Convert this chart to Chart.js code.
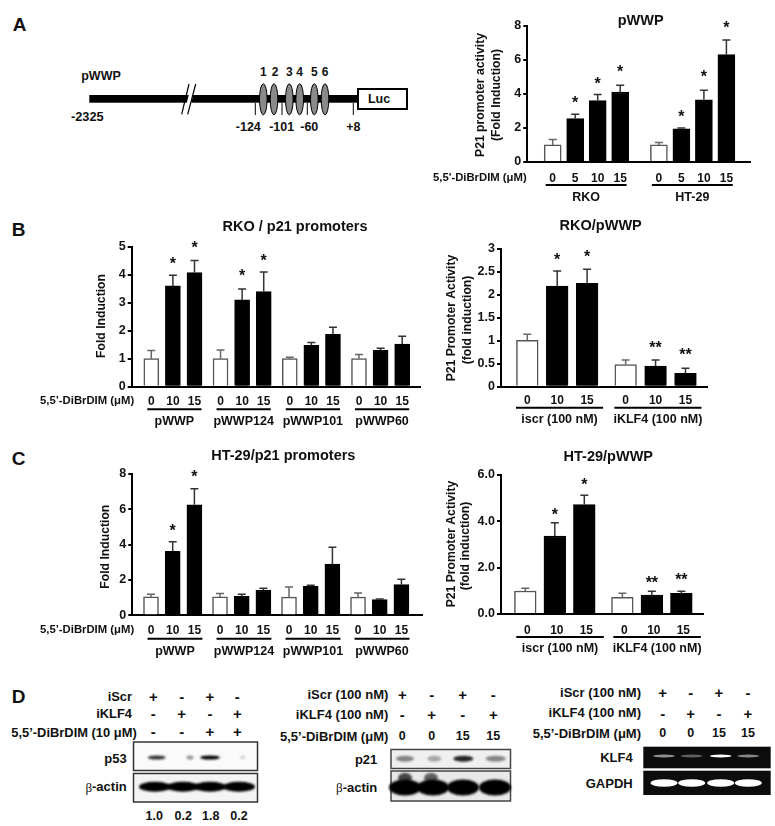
<!DOCTYPE html>
<html>
<head>
<meta charset="utf-8">
<title>p21 promoter activity</title>
<script src="https://cdn.jsdelivr.net/npm/chart.js@4"></script>
<style>
    html, body { margin: 0; padding: 0; background: #fff; overflow: hidden; }
    #page { position: relative; width: 775px; height: 826px; overflow: hidden; }
    #page canvas { position: absolute; }
    #over { position: absolute; left: 0; top: 0; }
    #over text { font-family: "Liberation Sans", Arial, sans-serif; font-weight: bold; fill: #111; dominant-baseline: central; }
</style>
</head>
<body>
<div id="page">
    <svg id="over" width="775" height="826" viewBox="0 0 775 826"></svg>
</div>
<script>
// Panel A, right
const aDoses = ['0', '5', '10', '15', '0', '5', '10', '15'];
const aGroups = ['RKO', 'HT-29'];
const aValues = [1.0, 2.55, 3.6, 4.1, 1.0, 1.95, 3.65, 6.3];
const aTops = [1.32, 2.8, 3.95, 4.5, 1.15, 2.0, 4.2, 7.15];
const aStars = ['', '*', '*', '*', '', '*', '*', '*'];
const aStarLevels = [0, 3.56, 4.65, 5.35, 0, 2.72, 5.06, 7.96];
const aTicks = ['0', '2', '4', '6', '8'];

// Panel B, left
const bDoses = ['0', '10', '15', '0', '10', '15', '0', '10', '15', '0', '10', '15'];
const promoters = ['pWWP', 'pWWP124', 'pWWP101', 'pWWP60'];
const bValues = [1.0, 3.6, 4.08, 1.0, 3.1, 3.4, 1.0, 1.48, 1.87, 1.0, 1.3, 1.52];
const bTops = [1.29, 3.98, 4.51, 1.31, 3.49, 4.1, 1.05, 1.58, 2.12, 1.15, 1.37, 1.8];
const bStars = ['', '*', '*', '', '*', '*', '', '', '', '', '', ''];
const bStarLevels = [0, 4.44, 4.99, 0, 3.99, 4.55, 0, 0, 0, 0, 0, 0];
const bTicks = ['0', '1', '2', '3', '4', '5'];

// Panel B, right
const knockDoses = ['0', '10', '15', '0', '10', '15'];
const knockGroups = ['iscr (100 nM)', 'iKLF4 (100 nM)'];
const b2Values = [1.01, 2.19, 2.25, 0.48, 0.45, 0.29];
const b2Tops = [1.14, 2.52, 2.56, 0.58, 0.58, 0.4];
const b2Stars = ['', '*', '*', '', '**', '**'];
const b2StarLevels = [0, 2.8, 2.85, 0, 0.87, 0.73];
const b2Ticks = ['0', '0.5', '1', '1.5', '2', '2.5', '3'];

// Panel C, left
const cValues = [1.04, 3.62, 6.26, 1.04, 1.08, 1.43, 1.03, 1.64, 2.9, 1.03, 0.89, 1.74];
const cTops = [1.19, 4.17, 7.17, 1.23, 1.19, 1.53, 1.6, 1.7, 3.85, 1.26, 0.92, 2.04];
const cStars = ['', '*', '*', '', '', '', '', '', '', '', '', ''];
const cStarLevels = [0, 4.87, 7.9, 0, 0, 0, 0, 0, 0, 0, 0, 0];
const cTicks = ['0', '2', '4', '6', '8'];

// Panel C, right
const c2Values = [0.99, 3.36, 4.71, 0.72, 0.82, 0.89];
const c2Tops = [1.11, 3.93, 5.12, 0.89, 0.98, 0.98];
const c2Stars = ['', '*', '*', '', '**', '**'];
const c2StarLevels = [0, 4.33, 5.6, 0, 1.41, 1.52];
const c2Ticks = ['0.0', '2.0', '4.0', '6.0'];

// Panel D, band strengths read by eye
const p53Bands = [0.8, 0.4, 1, 0.15];
const p53Numbers = ['1.0', '0.2', '1.8', '0.2'];
const p21Bands = [0.45, 0.3, 0.85, 0.45];
const klf4Bands = [0.55, 0.35, 1, 0.5];

const FONT = '"Liberation Sans", Arial, sans-serif';
const page = document.getElementById('page');

// error bars, stars, group lines and the texts that sit around a panel
const panelExtras = {
    id: 'panelExtras',
    afterDatasetsDraw(chart, args, opts) {
        const ctx = chart.ctx;
        const x = chart.scales.x;
        const y = chart.scales.y;
        const box = opts.box;
        ctx.save();
        opts.xs.forEach((v, i) => {
            const px = x.getPixelForValue(v);
            const top = y.getPixelForValue(opts.tops[i]);
            const base = y.getPixelForValue(opts.values[i]);
            ctx.strokeStyle = opts.doses[i] === '0' ? '#666' : '#333';
            ctx.lineWidth = 1.5;
            ctx.beginPath();
            ctx.moveTo(px, base);
            ctx.lineTo(px, top);
            ctx.moveTo(px - opts.capHalf, top);
            ctx.lineTo(px + opts.capHalf, top);
            ctx.stroke();
            if (opts.stars[i]) {
                ctx.fillStyle = '#111';
                ctx.font = 'bold 16px ' + FONT;
                ctx.textAlign = 'center';
                ctx.textBaseline = 'alphabetic';
                ctx.fillText(opts.stars[i], px, y.getPixelForValue(opts.starLevels[i]) + 6.5);
            }
        });
        // line under each group and its name
        let start = 0;
        opts.groups.forEach(name => {
            const first = x.getPixelForValue(opts.xs[start]);
            const last = x.getPixelForValue(opts.xs[start + opts.perGroup - 1]);
            const from = first - opts.linePad[0];
            const to = last + opts.linePad[1];
            ctx.strokeStyle = '#000';
            ctx.lineWidth = 2;
            ctx.beginPath();
            ctx.moveTo(from, opts.lineY - box.top);
            ctx.lineTo(to, opts.lineY - box.top);
            ctx.stroke();
            ctx.fillStyle = '#111';
            ctx.font = 'bold 12.5px ' + FONT;
            ctx.textAlign = 'center';
            ctx.textBaseline = 'middle';
            ctx.fillText(name, (from + to) / 2, opts.groupY - box.top);
            start += opts.perGroup;
        });
        // panel title
        ctx.font = 'bold 14.5px ' + FONT;
        ctx.fillText(opts.title, opts.titleX - box.left, opts.titleY - box.top);
        // row label on the left of the dose ticks
        if (opts.rowLabel) {
            ctx.font = 'bold 11.3px ' + FONT;
            ctx.textAlign = 'left';
            ctx.fillText(opts.rowLabel, opts.rowX - box.left, opts.doseY - box.top);
        }
        // y axis title, one or two lines
        ctx.font = 'bold 12.2px ' + FONT;
        ctx.textAlign = 'center';
        opts.yTitle.forEach(t => {
            ctx.save();
            ctx.translate(t.x - box.left, t.y - box.top);
            ctx.rotate(-Math.PI / 2);
            ctx.fillText(t.text, 0, 0);
            ctx.restore();
        });
        ctx.restore();
    }
};

function makePanel(p) {
    const canvas = document.createElement('canvas');
    canvas.style.left = p.box.left + 'px';
    canvas.style.top = p.box.top + 'px';
    canvas.width = p.box.width;
    canvas.height = p.box.height;
    page.appendChild(canvas);

    // bars sit on a linear x axis so the gap between groups can be narrower than a full slot
    const perGroup = p.doses.length / p.groups.length;
    const xs = p.doses.map((d, i) => i + Math.floor(i / perGroup) * p.groupGap);
    const xMin = -(p.firstBar - p.plot.left) / p.step;
    const xMax = (p.plot.right - p.firstBar) / p.step;
    const shift = (p.labelShift || 0) / p.step;

    new Chart(canvas, {
        type: 'bar',
        data: {
            datasets: [{
                data: xs.map((x, i) => ({ x: x, y: p.values[i] })),
                backgroundColor: p.doses.map(d => d === '0' ? '#fff' : '#000'),
                borderColor: p.doses.map(d => d === '0' ? '#555' : '#000'),
                borderWidth: 1.5,
                borderSkipped: 'bottom',
                barThickness: p.barWidth
            }]
        },
        options: {
            responsive: false,
            animation: false,
            layout: {
                padding: {
                    left: 0,
                    top: p.plot.top - p.box.top,
                    right: p.box.left + p.box.width - p.plot.right,
                    bottom: 0
                }
            },
            plugins: {
                legend: { display: false },
                tooltip: { enabled: false },
                panelExtras: {
                    box: p.box, xs: xs, values: p.values, tops: p.tops, doses: p.doses,
                    stars: p.stars, starLevels: p.starLevels, groups: p.groups, perGroup: perGroup,
                    linePad: p.linePad, lineY: p.lineY, groupY: p.groupY, capHalf: 4,
                    title: p.title, titleX: p.titleX, titleY: p.titleY,
                    rowLabel: p.rowLabel, rowX: p.rowX, doseY: p.doseY, yTitle: p.yTitle
                }
            },
            scales: {
                x: {
                    type: 'linear',
                    offset: false,
                    min: xMin,
                    max: xMax,
                    grid: { display: false, offset: false, drawTicks: false },
                    border: { color: '#000', width: 2 },
                    afterBuildTicks: axis => { axis.ticks = xs.map(v => ({ value: v + shift })); },
                    afterFit: axis => { axis.height = p.box.top + p.box.height - p.plot.bottom; },
                    ticks: {
                        autoSkip: false,
                        maxRotation: 0,
                        padding: p.doseY - p.plot.bottom - 7,
                        color: '#111',
                        font: { family: FONT, weight: 'bold', size: 12 },
                        callback: (value, index) => p.doses[index]
                    }
                },
                y: {
                    min: 0,
                    max: p.yMax,
                    grid: { drawOnChartArea: false, color: '#000', lineWidth: 2, tickLength: 4 },
                    border: { color: '#000', width: 2 },
                    afterBuildTicks: axis => {
                        axis.ticks = p.yTicks.map((t, i) => ({ value: i * p.yMax / (p.yTicks.length - 1) }));
                    },
                    afterFit: axis => { axis.width = p.plot.left - p.box.left; },
                    ticks: {
                        padding: 2,
                        color: '#111',
                        font: { family: FONT, weight: 'bold', size: 12.5 },
                        callback: (value, index) => p.yTicks[index]
                    }
                }
            }
        },
        plugins: [panelExtras]
    });
}

makePanel({
    box: { left: 430, top: 5, width: 345, height: 200 },
    plot: { left: 527.3, right: 750, top: 25.5, bottom: 162 },
    doses: aDoses, groups: aGroups, values: aValues, tops: aTops, stars: aStars, starLevels: aStarLevels,
    yTicks: aTicks, yMax: 8, firstBar: 552.7, step: 22.5, groupGap: 0.72, barWidth: 17,
    linePad: [7, 6.4], lineY: 185, groupY: 197.5, doseY: 178,
    title: 'pWWP', titleX: 640.7, titleY: 21,
    rowLabel: "5,5'-DiBrDIM (μM)", rowX: 433,
    yTitle: [{ text: 'P21 promoter activity', x: 481, y: 95 }, { text: '(Fold Induction)', x: 497, y: 95 }]
});

makePanel({
    box: { left: 30, top: 215, width: 400, height: 218 },
    plot: { left: 131.7, right: 420.7, top: 246.7, bottom: 386.7 },
    doses: bDoses, groups: promoters, values: bValues, tops: bTops, stars: bStars, starLevels: bStarLevels,
    yTicks: bTicks, yMax: 5, firstBar: 151.3, step: 21.6, groupGap: 0.205, barWidth: 15,
    linePad: [4, 7], lineY: 409.3, groupY: 422, doseY: 401,
    title: 'RKO / p21 promoters', titleX: 295, titleY: 227,
    rowLabel: '5,5’-DiBrDIM (μM)', rowX: 40,
    yTitle: [{ text: 'Fold Induction', x: 101.7, y: 316 }]
});

makePanel({
    box: { left: 435, top: 215, width: 290, height: 218 },
    plot: { left: 501, right: 707.7, top: 249, bottom: 386.7 },
    doses: knockDoses, groups: knockGroups, values: b2Values, tops: b2Tops, stars: b2Stars, starLevels: b2StarLevels,
    yTicks: b2Ticks, yMax: 3, firstBar: 527.3, step: 29.9, groupGap: 0.29, barWidth: 21.7,
    linePad: [11.3, 16], lineY: 407.7, groupY: 420, doseY: 400.7,
    title: 'RKO/pWWP', titleX: 600.7, titleY: 225.7,
    yTitle: [{ text: 'P21 Promoter Activity', x: 451.7, y: 318 }, { text: '(fold induction)', x: 468, y: 320 }]
});

makePanel({
    box: { left: 30, top: 445, width: 400, height: 218 },
    plot: { left: 132.3, right: 422.7, top: 474, bottom: 615.3 },
    doses: bDoses, groups: promoters, values: cValues, tops: cTops, stars: cStars, starLevels: cStarLevels,
    yTicks: cTicks, yMax: 8, firstBar: 151, step: 21.7, groupGap: 0.18, barWidth: 15,
    linePad: [3.5, 8], lineY: 638.7, groupY: 651.3, doseY: 630,
    title: 'HT-29/p21 promoters', titleX: 283.3, titleY: 456,
    rowLabel: '5,5’-DiBrDIM (μM)', rowX: 40,
    yTitle: [{ text: 'Fold Induction', x: 105.7, y: 546.7 }]
});

makePanel({
    box: { left: 435, top: 445, width: 290, height: 218 },
    plot: { left: 501, right: 703, top: 474.7, bottom: 614 },
    doses: knockDoses, groups: knockGroups, values: c2Values, tops: c2Tops, stars: c2Stars, starLevels: c2StarLevels,
    yTicks: c2Ticks, yMax: 6, firstBar: 525.3, step: 29.5, groupGap: 0.29, barWidth: 21.7,
    labelShift: 2, linePad: [9, 19.5], lineY: 637, groupY: 649, doseY: 630,
    title: 'HT-29/pWWP', titleX: 608.3, titleY: 456.7,
    yTitle: [{ text: 'P21 Promoter Activity', x: 451.7, y: 544 }, { text: '(fold induction)', x: 465.7, y: 546 }]
});

// ---- everything below is not data: promoter drawing and the blots ----
const sitesX = [263.3, 274, 289.3, 299.7, 314.3, 325];
const sitesNum = ['1', '2', '3', '4', '5', '6'];
const cutX = [255.3, 282, 307.3, 353.3];
const cutLabels = [['-124', 248.3], ['-101', 281.7], ['-60', 309.3], ['+8', 353.3]];

function label(txt, x, y, size, anchor) {
    return `<text x="${x}" y="${y}" font-size="${size}" text-anchor="${anchor || 'middle'}">${txt}</text>`;
}
function beta(x, y) {
    return `<text x="${x}" y="${y}" font-size="13" text-anchor="end"><tspan style="font-family:'Liberation Serif';font-weight:normal">β</tspan>-actin</text>`;
}
function signs(rows, xs, ys) {
    let out = '';
    rows.forEach((row, r) => {
        row.forEach((s, i) => { out += label(s, xs[i], ys[r], /[0-9]/.test(s) ? 12.5 : 15); });
    });
    return out;
}
function bands(xs, y, levels, rx, ry, color, filter) {
    return xs.map((x, i) =>
        `<ellipse cx="${x}" cy="${y}" rx="${Array.isArray(rx) ? rx[i] : rx}" ry="${ry}" fill="${color}" fill-opacity="${levels[i]}" filter="url(#${filter || 'soft'})"/>`
    ).join('');
}

let svg = `<defs>
<filter id="soft" x="-40%" y="-80%" width="180%" height="260%"><feGaussianBlur stdDeviation="1"/></filter>
<filter id="crisp" x="-40%" y="-80%" width="180%" height="260%"><feGaussianBlur stdDeviation="0.5"/></filter>
</defs>`;

// panel letters
svg += label('A', 19.5, 24, 19) + label('B', 18.5, 229, 19) + label('C', 18.5, 458, 19) + label('D', 18.5, 696, 19);

// promoter construct
svg += `<rect x="89.3" y="95" width="269" height="7.7" fill="#000"/>`;
svg += `<polygon points="184,114 191.5,84 196,84 188.5,114" fill="#fff"/>`;
svg += `<line x1="181.7" y1="114.3" x2="189" y2="84" stroke="#000" stroke-width="1.2"/>`;
svg += `<line x1="187.7" y1="114.3" x2="195.7" y2="84" stroke="#000" stroke-width="1.2"/>`;
cutX.forEach(x => { svg += `<line x1="${x}" y1="103" x2="${x}" y2="115" stroke="#000" stroke-width="1"/>`; });
sitesX.forEach((x, i) => {
    svg += `<ellipse cx="${x}" cy="99.3" rx="3.8" ry="15.5" fill="#8a8a8a" stroke="#000" stroke-width="1"/>`;
    svg += label(sitesNum[i], x + (i === 1 ? 1 : 0), 72.3, 12);
});
svg += `<rect x="358" y="89" width="49" height="20" fill="#fff" stroke="#000" stroke-width="2"/>`;
svg += label('Luc', 379, 99.3, 12.5) + label('pWWP', 101, 76.3, 12.5) + label('-2325', 87.3, 116.3, 12.8);
cutLabels.forEach(c => { svg += label(c[0], c[1], 126.7, 12.5); });

// blot D, p53
svg += label('iScr', 132, 696.7, 12.9, 'end') + label('iKLF4', 132, 713.7, 12.9, 'end');
svg += label('5,5’-DiBrDIM (10 μM)', 136.7, 732, 12.9, 'end');
const d1X = [153.3, 181.7, 210, 237.3];
svg += signs([['+', '-', '+', '-'], ['-', '+', '-', '+'], ['-', '-', '+', '+']], d1X, [696, 713, 731]);
svg += `<rect x="133.5" y="742" width="124" height="28.5" fill="#fafafa" stroke="#333" stroke-width="1.5"/>`;
svg += `<rect x="133.5" y="773.5" width="124" height="28.5" fill="#f4f4f4" stroke="#333" stroke-width="1.5"/>`;
svg += bands([156.7, 190, 210, 242.7], 757.5, p53Bands, [9, 3.5, 10, 2.5], 2, '#000');
svg += bands([155, 183, 210, 239], 786.7, [1, 1, 1, 1], 16, 5, '#000');
svg += label('p53', 126.7, 758, 13, 'end') + beta(126.7, 786.7);
p53Numbers.forEach((n, i) => { svg += label(n, [154.3, 183.3, 210.7, 239][i], 815.7, 12.5); });

// blot D, p21
svg += label('iScr (100 nM)', 388.3, 694, 13, 'end') + label('iKLF4 (100 nM)', 388.3, 714.3, 13, 'end');
svg += label('5,5’-DiBrDIM (μM)', 388.3, 736, 13, 'end');
const d2X = [402.3, 431.7, 462.7, 493.3];
svg += signs([['+', '-', '+', '-'], ['-', '+', '-', '+'], ['0', '0', '15', '15']], d2X, [694, 714, 736]);
svg += `<rect x="391" y="749.5" width="119.5" height="19" fill="#f0f0f0" stroke="#444" stroke-width="1.5"/>`;
svg += `<rect x="391" y="771" width="119.5" height="30" fill="#e8e8e8" stroke="#444" stroke-width="1.5"/>`;
svg += bands([405, 434.3, 463.3, 495.7], 758.7, p21Bands, [9, 7, 10, 10], 3, '#000');
svg += bands([405, 433, 463, 495], 787.5, [1, 1, 1, 1], 16, 8, '#000');
svg += bands([405, 431], 778, [0.7, 0.6], 7, 5, '#000');
svg += label('p21', 377.3, 759, 13, 'end') + beta(377.3, 787.3);

// blot D, KLF4
svg += label('iScr (100 nM)', 641, 692, 13, 'end') + label('iKLF4 (100 nM)', 641, 712.7, 13, 'end');
svg += label('5,5’-DiBrDIM (μM)', 641, 733.3, 13, 'end');
const d3X = [662.7, 690.7, 719, 748];
svg += signs([['+', '-', '+', '-'], ['-', '+', '-', '+'], ['0', '0', '15', '15']], d3X, [692, 713, 733]);
svg += `<rect x="643.3" y="746.7" width="127.4" height="21.6" fill="#0c0c0c"/>`;
svg += `<rect x="643.3" y="770.7" width="127.4" height="24.3" fill="#0c0c0c"/>`;
svg += bands([664, 691.7, 720.7, 748.3], 756, klf4Bands, 11, 1.5, '#fff', 'crisp');
svg += bands([664, 691.7, 720.7, 748.3], 783, [1, 1, 1, 1], 13.5, 3.8, '#fff', 'crisp');
svg += label('KLF4', 632.7, 757, 13, 'end') + label('GAPDH', 632.7, 783.3, 13, 'end');

document.getElementById('over').innerHTML = svg;
</script>
</body>
</html>
